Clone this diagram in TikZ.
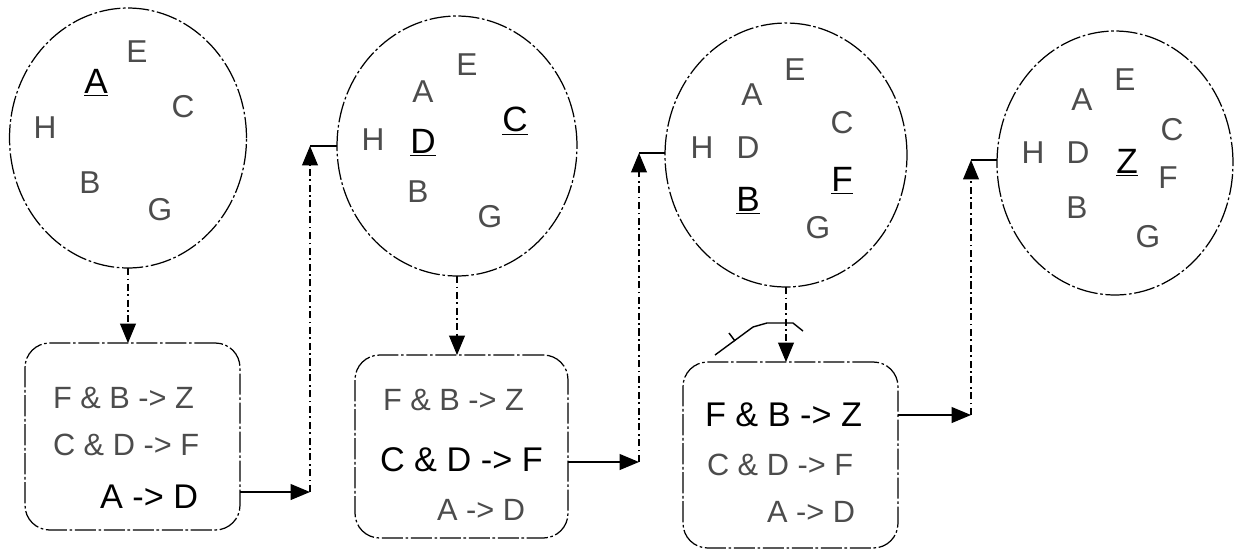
\documentclass[tikz,border=0pt]{standalone}
\usepackage{fontspec}
\setmainfont{Liberation Sans}
\usetikzlibrary{shapes.geometric,arrows.meta}
\begin{document}
\begin{tikzpicture}[x=0.02cm,y=-0.02cm,
  every node/.style={inner sep=0pt, outer sep=0pt},
  outline/.style={line width=0.7pt, dash pattern=on 12pt off 1.5pt on 1.5pt off 1.5pt},
  state/.style={draw, outline, ellipse},
  rulebox/.style={draw, outline, rounded corners=14pt, rectangle},
  conn/.style={line width=0.6pt, dash pattern=on 4pt off 2pt on 1pt off 2pt},
  link/.style={line width=0.8pt},
  tip/.style={-{Triangle[length=11pt,width=9pt]}},
  fact/.style={font=\fontsize{18}{20}\selectfont, text=black!70},
  goal/.style={font=\fontsize{20}{22}\selectfont},
  rule/.style={font=\fontsize{17.5}{20}\selectfont, text=black!70, anchor=west},
  hot/.style={font=\fontsize{19.5}{22}\selectfont, anchor=west},
]
\useasboundingbox (0,0) rectangle (1240,552);

% working-memory states
\node[state, minimum width=4.74cm, minimum height=5.2cm]  (c1) at (128,138) {};
\node[state, minimum width=4.8cm,  minimum height=5.2cm]  (c2) at (457,146) {};
\node[state, minimum width=4.84cm, minimum height=5.28cm] (c3) at (786,155) {};
\node[state, minimum width=4.72cm, minimum height=5.28cm] (c4) at (1115,163) {};

% facts, state 1
\node[goal] (c1a) at (96,83) {\underline{A}};
\node[fact] (c1e) at (137,52) {E};
\node[fact] (c1c) at (183,107) {C};
\node[fact] (c1h) at (45,128) {H};
\node[fact] (c1b) at (90,183) {B};
\node[fact] (c1g) at (160,210) {G};

% facts, state 2
\node[fact] (c2a) at (423,92) {A};
\node[fact] (c2e) at (467,65) {E};
\node[goal] (c2c) at (515,121) {\underline{C}};
\node[fact] (c2h) at (373,140) {H};
\node[goal] (c2d) at (423,143) {\underline{D}};
\node[fact] (c2b) at (418,192) {B};
\node[fact] (c2g) at (490,217) {G};

% facts, state 3
\node[fact] (c3a) at (752,95) {A};
\node[fact] (c3e) at (795,70) {E};
\node[fact] (c3c) at (842,123) {C};
\node[fact] (c3h) at (702,148) {H};
\node[fact] (c3d) at (748,148) {D};
\node[goal] (c3f) at (842,181) {\underline{F}};
\node[goal] (c3b) at (748,201) {\underline{B}};
\node[fact] (c3g) at (818,228) {G};

% facts, state 4
\node[fact] (c4a) at (1082,100) {A};
\node[fact] (c4e) at (1125,80) {E};
\node[fact] (c4c) at (1172,130) {C};
\node[fact] (c4h) at (1033,153) {H};
\node[fact] (c4d) at (1078,153) {D};
\node[goal] (c4z) at (1127,163) {\underline{Z}};
\node[fact] (c4f) at (1168,178) {F};
\node[fact] (c4b) at (1077,208) {B};
\node[fact] (c4g) at (1148,237) {G};

% rule sets
\node[rulebox, minimum width=4.3cm,  minimum height=3.74cm] (b1) at (132.5,436.5) {};
\node[rulebox, minimum width=4.26cm, minimum height=3.66cm] (b2) at (461.5,446.5) {};
\node[rulebox, minimum width=4.3cm,  minimum height=3.72cm] (b3) at (790.5,455) {};

\node[rule] (b1r1) at (53,398) {F \& B -> Z};
\node[rule] (b1r2) at (53,445) {C \& D -> F};
\node[hot]  (b1r3) at (100,497) {A -> D};

\node[rule] (b2r1) at (383,400) {F \& B -> Z};
\node[hot]  (b2r2) at (380,460) {C \& D -> F};
\node[rule] (b2r3) at (437,510) {A -> D};

\node[hot]  (b3r1) at (705,415) {F \& B -> Z};
\node[rule] (b3r2) at (707,465) {C \& D -> F};
\node[rule] (b3r3) at (767,512) {A -> D};

% state -> rule set
\draw[conn, tip] (c1.south) -- (c1.south |- b1.north);
\draw[conn, tip] (c2.south) -- (c2.south |- b2.north);
\draw[conn, tip] (c3.south) -- (c3.south |- b3.north);

% rule set -> next state
\coordinate (k1) at (310,492);
\coordinate (t1) at (310,146);
\draw[link, tip] (b1.east |- k1) -- (k1);
\draw[conn, tip] (k1) -- (t1);
\draw[link] (t1) -- (c2.west);

\coordinate (k2) at (639,462);
\coordinate (t2) at (639,153);
\draw[link, tip] (b2.east |- k2) -- (k2);
\draw[conn, tip] (k2) -- (t2);
\draw[link] (t2) -- (t2 -| c3.west);

\coordinate (k3) at (971,415);
\coordinate (t3) at (971,160);
\draw[link, tip] (b3.east |- k3) -- (k3);
\draw[conn, tip] (k3) -- (t3);
\draw[link] (t3) -- (t3 -| c4.west);

% pen stroke over the third rule set
\draw[link] (715,355) -- (753,327) -- (767,323) -- (793,323) -- (803,331);
\draw[link] (729,333) -- (735,341);

\end{tikzpicture}
\end{document}
